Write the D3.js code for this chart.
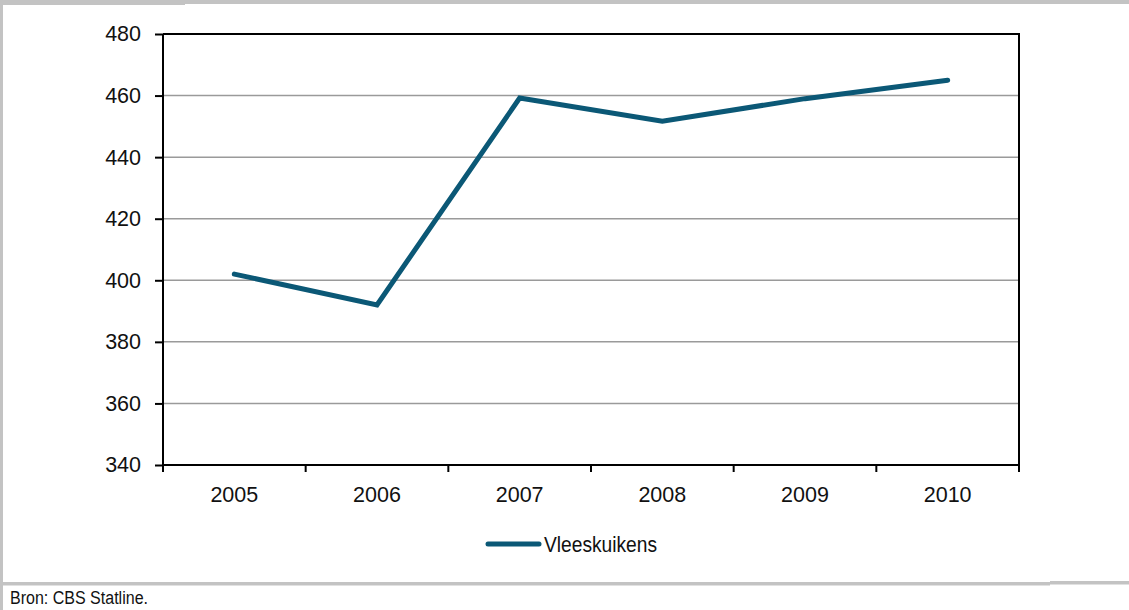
<!DOCTYPE html>
<html>
<head>
<meta charset="utf-8">
<script src="https://cdn.jsdelivr.net/npm/d3@7"></script>
<style>
  html, body { margin: 0; padding: 0; background: #fff; }
  svg { display: block; font-family: "Liberation Sans", Arial, sans-serif; }
</style>
</head>
<body>
<svg id="chart" width="1129" height="610"></svg>
<script>
// Aantal vleeskuikens per jaar
const years = ["2005", "2006", "2007", "2008", "2009", "2010"];
const vleeskuikens = [402, 392, 459.2, 451.7, 459, 465];
const yTicks = [340, 360, 380, 400, 420, 440, 460, 480];
const seriesName = "Vleeskuikens";
const sourceNote = "Bron: CBS Statline.";

const svg = d3.select("#chart");
const W = 1129, H = 610;
const plot = { left: 163, right: 1019, top: 34, bottom: 465 };
const lineColor = "#0b5876";

// outer frame (grey bands)
const frame = svg.append("g").attr("fill", "#c3c3c3");
frame.append("rect").attr("x", 0).attr("y", 0).attr("width", 185).attr("height", 5);
frame.append("rect").attr("x", 185).attr("y", 0).attr("width", W - 185).attr("height", 4);
frame.append("rect").attr("x", 0).attr("y", 0).attr("width", 3).attr("height", H);
frame.append("rect").attr("x", 0).attr("y", 582).attr("width", 1050).attr("height", 3.5);
frame.append("rect").attr("x", 1050).attr("y", 581).attr("width", W - 1050).attr("height", 3.5);

const x = d3.scaleBand().domain(years).range([plot.left, plot.right]).paddingInner(0).paddingOuter(0);
const y = d3.scaleLinear().domain([340, 480]).range([plot.bottom, plot.top]);

// horizontal gridlines
svg.append("g")
  .selectAll("line")
  .data(yTicks.filter(t => t > 340 && t < 480))
  .join("line")
  .attr("x1", plot.left).attr("x2", plot.right)
  .attr("y1", d => y(d)).attr("y2", d => y(d))
  .attr("stroke", "#9a9a9a").attr("stroke-width", 1.5);

// frame of plot area: top and right
svg.append("path")
  .attr("d", `M${plot.left},${y(480)}H${plot.right}V${plot.bottom}`)
  .attr("fill", "none").attr("stroke", "#000").attr("stroke-width", 2);

// y axis
const yAxis = d3.axisLeft(y).tickValues(yTicks).tickSize(8).tickPadding(14);
const gy = svg.append("g").attr("transform", `translate(${plot.left},0)`).call(yAxis);
gy.select(".domain").attr("stroke-width", 2).attr("d", `M0,${plot.top}V${plot.bottom}`);
gy.selectAll(".tick line").attr("stroke-width", 2);
gy.selectAll(".tick text").attr("font-size", 21.5).attr("fill", "#111").attr("font-family", "Liberation Sans, Arial, sans-serif");

// x axis: ticks at category boundaries, labels at centres
const gx = svg.append("g").attr("transform", `translate(0,${plot.bottom})`);
gx.append("line").attr("x1", plot.left).attr("x2", plot.right).attr("stroke", "#000").attr("stroke-width", 2);
const bounds = years.map(d => x(d)).concat([plot.right]);
gx.selectAll("line.tk").data(bounds).join("line").attr("class", "tk")
  .attr("x1", d => d).attr("x2", d => d).attr("y1", 0).attr("y2", 7)
  .attr("stroke", "#000").attr("stroke-width", 2);
gx.selectAll("text").data(years).join("text")
  .attr("x", d => x(d) + x.bandwidth() / 2)
  .attr("y", 37)
  .attr("text-anchor", "middle")
  .attr("font-size", 21.5).attr("fill", "#111")
  .text(d => d);

// data line
const line = d3.line()
  .x((d, i) => x(years[i]) + x.bandwidth() / 2)
  .y(d => y(d));
svg.append("path")
  .datum(vleeskuikens)
  .attr("d", line)
  .attr("fill", "none")
  .attr("stroke", lineColor)
  .attr("stroke-width", 5)
  .attr("stroke-linejoin", "miter")
  .attr("stroke-linecap", "round");

// legend (condensed lettering)
const lg = svg.append("g");
lg.append("line").attr("x1", 488).attr("x2", 539).attr("y1", 544).attr("y2", 544)
  .attr("stroke", lineColor).attr("stroke-width", 5).attr("stroke-linecap", "round");
lg.append("text").attr("x", 544).attr("y", 552)
  .attr("font-size", 22).attr("fill", "#111")
  .attr("textLength", 113).attr("lengthAdjust", "spacingAndGlyphs")
  .text(seriesName);

// source note
svg.append("text").attr("x", 10).attr("y", 604)
  .attr("font-size", 18).attr("fill", "#111")
  .attr("textLength", 138).attr("lengthAdjust", "spacingAndGlyphs")
  .text(sourceNote);
</script>
</body>
</html>
